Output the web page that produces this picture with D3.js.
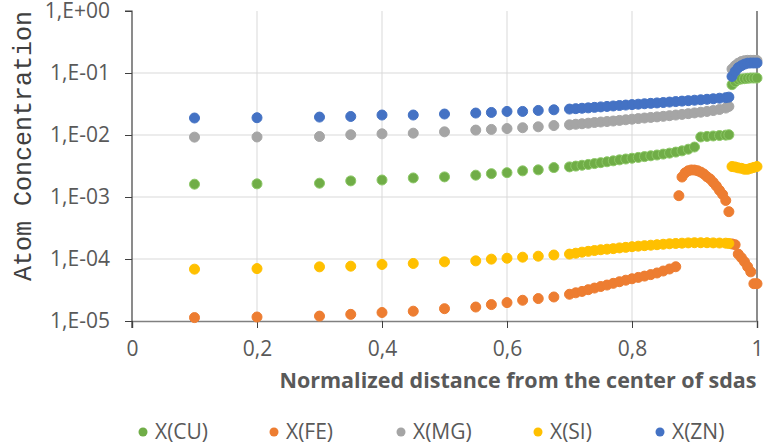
<!DOCTYPE html>
<html lang="en">
<head>
  <meta charset="UTF-8">
  <title>Atom Concentration</title>
  <style>
    body { margin: 0; background: #fff; }
    .tick-label { font-family: 'Open Sans', sans-serif; font-size: 21px; fill: #595959; }
    .grid { stroke: #d9d9d9; stroke-width: 1; }
  </style>
</head>
<body>
  <svg width="773" height="448"></svg>
  <script src="https://cdn.jsdelivr.net/npm/d3@7/dist/d3.min.js"></script>
  <script>
    // x positions (normalized distance)
    var xMain = [0.1, 0.2, 0.3, 0.35, 0.4, 0.45, 0.5, 0.55, 0.575, 0.6, 0.625, 0.65, 0.675, 0.7,
      0.71, 0.72, 0.73, 0.74, 0.75, 0.76, 0.77, 0.78, 0.79, 0.8, 0.81, 0.82, 0.83, 0.84, 0.85,
      0.86, 0.87, 0.88, 0.89, 0.9, 0.91, 0.92, 0.93, 0.94, 0.95, 0.955]
    var xEdge = [0.96, 0.965, 0.97, 0.975, 0.98, 0.985, 0.99, 0.995, 1.0]
    var xFeLow = [0.1, 0.2, 0.3, 0.35, 0.4, 0.45, 0.5, 0.55, 0.575, 0.6, 0.625, 0.65, 0.675, 0.7,
      0.71, 0.72, 0.73, 0.74, 0.75, 0.76, 0.77, 0.78, 0.79, 0.8, 0.81, 0.82, 0.83, 0.84, 0.85, 0.86, 0.87]
    var xFeHigh = [0.875, 0.88, 0.885, 0.89, 0.895, 0.9, 0.905, 0.91, 0.915, 0.92, 0.925, 0.93,
      0.935, 0.94, 0.945, 0.95, 0.955]

    var cuMain = [0.00161, 0.00163, 0.00167, 0.00182, 0.00188, 0.00203, 0.00211, 0.00225, 0.00238,
      0.00247, 0.00264, 0.00274, 0.00298, 0.00306, 0.00315, 0.00325, 0.00335, 0.00346, 0.00358,
      0.0037, 0.00383, 0.00397, 0.0041, 0.00422, 0.00435, 0.00448, 0.00462, 0.00476, 0.00492,
      0.0051, 0.0053, 0.00555, 0.0059, 0.0064, 0.0093, 0.0095, 0.00965, 0.0098, 0.00995, 0.0101]
    var cuEdge = [0.0648, 0.0724, 0.078, 0.08, 0.081, 0.082, 0.083, 0.083, 0.083]

    var feLow = [1.135e-5, 1.16e-5, 1.2e-5, 1.28e-5, 1.37e-5, 1.44e-5, 1.58e-5, 1.68e-5, 1.84e-5,
      1.98e-5, 2.16e-5, 2.3e-5, 2.44e-5, 2.7e-5, 2.85e-5, 3.0e-5, 3.2e-5, 3.4e-5, 3.6e-5, 3.8e-5,
      4.05e-5, 4.3e-5, 4.55e-5, 4.8e-5, 5.05e-5, 5.3e-5, 5.6e-5, 5.95e-5, 6.4e-5, 6.9e-5, 7.5e-5]
    var feHigh = [1.05e-3, 2.1e-3, 2.45e-3, 2.65e-3, 2.73e-3, 2.72e-3, 2.65e-3, 2.52e-3, 2.35e-3,
      2.12e-3, 1.95e-3, 1.72e-3, 1.5e-3, 1.28e-3, 1.1e-3, 8.8e-4, 5.8e-4]
    var feEdge = [1.75e-4, 1.7e-4, 1.2e-4, 1.05e-4, 9.0e-5, 7.5e-5, 6.2e-5, 4.0e-5, 4.0e-5]

    var mgMain = [0.00924, 0.0093, 0.00946, 0.0101, 0.01045, 0.0107, 0.01125, 0.012, 0.0123, 0.0127,
      0.0131, 0.01356, 0.0142, 0.0146, 0.0149, 0.0152, 0.0155, 0.0159, 0.0162, 0.0165, 0.0168,
      0.0172, 0.0176, 0.018, 0.0184, 0.0188, 0.0192, 0.0196, 0.02, 0.0205, 0.021, 0.0215, 0.0221,
      0.0227, 0.0233, 0.024, 0.0248, 0.0258, 0.0272, 0.0289]
    var mgEdge = [0.116, 0.131, 0.144, 0.153, 0.158, 0.16, 0.16, 0.16, 0.159]

    var siMain = [6.86e-5, 7.0e-5, 7.47e-5, 7.66e-5, 8.16e-5, 8.47e-5, 9.0e-5, 9.33e-5, 9.95e-5,
      1.03e-4, 1.07e-4, 1.11e-4, 1.16e-4, 1.2e-4, 1.24e-4, 1.29e-4, 1.33e-4, 1.37e-4, 1.41e-4,
      1.44e-4, 1.47e-4, 1.51e-4, 1.54e-4, 1.58e-4, 1.61e-4, 1.64e-4, 1.67e-4, 1.7e-4, 1.73e-4,
      1.76e-4, 1.78e-4, 1.8e-4, 1.82e-4, 1.83e-4, 1.83e-4, 1.83e-4, 1.82e-4, 1.81e-4, 1.8e-4, 1.78e-4]
    var siEdge = [3.1e-3, 3.05e-3, 2.95e-3, 2.9e-3, 2.8e-3, 2.8e-3, 2.9e-3, 3.0e-3, 3.1e-3]

    var znMain = [0.0188, 0.019, 0.01945, 0.0199, 0.021, 0.021, 0.0218, 0.0226, 0.0231, 0.024,
      0.024, 0.0249, 0.0255, 0.0262, 0.0266, 0.027, 0.0274, 0.0279, 0.0284, 0.0289, 0.0294, 0.0299,
      0.0304, 0.0309, 0.0314, 0.0319, 0.0324, 0.0329, 0.0334, 0.034, 0.0346, 0.0352, 0.0358, 0.0364,
      0.037, 0.0377, 0.0384, 0.0392, 0.04, 0.0408]
    var znEdge = [0.088, 0.106, 0.122, 0.131, 0.139, 0.144, 0.145, 0.145, 0.145]

    var xTicks = [0, 0.2, 0.4, 0.6, 0.8, 1]
    var yTicks = [1e-5, 1e-4, 1e-3, 1e-2, 1e-1, 1]
    var yTickLabels = ['1,E-05', '1,E-04', '1,E-03', '1,E-02', '1,E-01', '1,E+00']

    function zip(xs, ys) {
      return xs.map(function(x, i) { return { x: x, y: ys[i] } })
    }

    var series = [
      { name: 'X(CU)', color: '#70ad47', stroke: '#8cc866', points: zip(xMain, cuMain).concat(zip(xEdge, cuEdge)) },
      { name: 'X(FE)', color: '#ed7d31', stroke: '#ed7d31', points: zip(xFeLow, feLow).concat(zip(xFeHigh, feHigh), zip(xEdge, feEdge)) },
      { name: 'X(MG)', color: '#a5a5a5', stroke: '#a5a5a5', points: zip(xMain, mgMain).concat(zip(xEdge, mgEdge)) },
      { name: 'X(SI)', color: '#ffc000', stroke: '#ffc000', points: zip(xMain, siMain).concat(zip(xEdge, siEdge)) },
      { name: 'X(ZN)', color: '#4472c4', stroke: '#4472c4', points: zip(xMain, znMain).concat(zip(xEdge, znEdge)) }
    ]

    var svg = d3.select('svg')
    var plotLeft = 132, plotRight = 757, plotTop = 11, plotBottom = 321

    var xScale = d3.scaleLinear().domain([0, 1]).range([plotLeft, plotRight])
    var yScale = d3.scaleLog().domain([1e-5, 1]).range([plotBottom, plotTop])

    // gridlines
    svg.append('g')
      .selectAll('line')
      .data(yTicks.slice(1, 5))
      .enter()
      .append('line')
      .attr('class', 'grid')
      .attr('x1', plotLeft)
      .attr('x2', plotRight)
      .attr('y1', function(d) { return yScale(d) })
      .attr('y2', function(d) { return yScale(d) })

    svg.append('g')
      .selectAll('line')
      .data(xTicks.slice(1, 5))
      .enter()
      .append('line')
      .attr('class', 'grid')
      .attr('x1', function(d) { return xScale(d) })
      .attr('x2', function(d) { return xScale(d) })
      .attr('y1', plotTop)
      .attr('y2', plotBottom)

    // right border at x = 1
    svg.append('line')
      .attr('x1', xScale(1)).attr('x2', xScale(1))
      .attr('y1', plotTop).attr('y2', plotBottom)
      .attr('stroke', '#404040')
      .attr('stroke-width', 1.2)

    // x axis
    var xAxis = svg.append('g')
      .attr('transform', 'translate(0,' + plotBottom + ')')
      .call(d3.axisBottom(xScale).tickValues(xTicks).tickSize(7).tickPadding(13)
        .tickFormat(function(d) { return String(d).replace('.', ',') }))
    xAxis.select('.domain').attr('stroke', '#808080').attr('stroke-width', 1.6)
    xAxis.selectAll('.tick line').attr('stroke', '#404040')
    xAxis.selectAll('.tick text').attr('class', 'tick-label')
    xAxis.attr('font-size', null).attr('font-family', null)

    // y axis
    var yAxis = svg.append('g')
      .attr('transform', 'translate(' + plotLeft + ',0)')
      .call(d3.axisLeft(yScale).tickValues(yTicks).tickSize(7).tickPadding(15)
        .tickFormat(function(d, i) { return yTickLabels[i] }))
    yAxis.select('.domain').attr('stroke', '#404040').attr('stroke-width', 1.2)
      .attr('d', 'M-7,' + plotTop + 'H0V' + (plotBottom + 7))
    yAxis.selectAll('.tick line').attr('stroke', '#404040')
    yAxis.selectAll('.tick text').attr('class', 'tick-label')
    yAxis.attr('font-size', null).attr('font-family', null)

    // points
    series.forEach(function(s) {
      svg.append('g')
        .selectAll('circle')
        .data(s.points)
        .enter()
        .append('circle')
        .attr('cx', function(d) { return xScale(d.x) })
        .attr('cy', function(d) { return yScale(d.y) })
        .attr('r', 5)
        .attr('fill', s.color)
        .attr('stroke', s.stroke)
        .attr('stroke-width', 1)
    })

    // axis titles
    svg.append('text')
      .attr('x', 518)
      .attr('y', 388)
      .attr('text-anchor', 'middle')
      .attr('font-family', "'Open Sans', sans-serif")
      .attr('font-weight', 'bold')
      .attr('font-size', '21.5px')
      .attr('fill', '#595959')
      .text('Normalized distance from the center of sdas')

    svg.append('text')
      .attr('transform', 'translate(31,146) rotate(-90)')
      .attr('text-anchor', 'middle')
      .attr('font-family', "'Liberation Mono', 'Courier New', monospace")
      .attr('font-size', '25px')
      .attr('fill', '#404040')
      .text('Atom Concentration')

    // legend
    var legendX = [143, 274, 401, 538, 660]
    var legend = svg.append('g')
      .selectAll('g')
      .data(series)
      .enter()
      .append('g')
      .attr('transform', function(d, i) { return 'translate(' + legendX[i] + ',432)' })
    legend.append('circle')
      .attr('r', 4.5)
      .attr('fill', function(d) { return d.color })
    legend.append('text')
      .attr('class', 'tick-label')
      .attr('x', 12)
      .attr('dy', '0.35em')
      .text(function(d) { return d.name })
  </script>
</body>
</html>
